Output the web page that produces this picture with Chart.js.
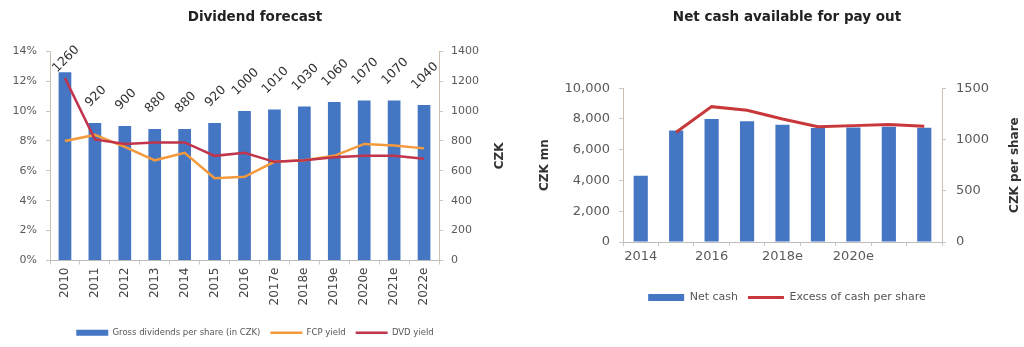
<!DOCTYPE html>
<html>
<head>
<meta charset="utf-8">
<script src="https://cdn.jsdelivr.net/npm/chart.js@4"></script>
<style>
  html, body { margin: 0; padding: 0; background: #fff; overflow: hidden; }
  body { width: 1024px; height: 347px; position: relative; }
  .box { position: absolute; top: 0; height: 347px; }
  #divBox { left: 0; width: 510px; }
  #cashBox { left: 534px; width: 506px; }
</style>
</head>
<body>
<div class="box" id="divBox"><canvas id="dividendChart"></canvas></div>
<div class="box" id="cashBox"><canvas id="cashChart"></canvas></div>
<script>
// Dividend forecast
const divYears = ['2010', '2011', '2012', '2013', '2014', '2015', '2016', '2017e', '2018e', '2019e', '2020e', '2021e', '2022e'];
const grossDps = [1260, 920, 900, 880, 880, 920, 1000, 1010, 1030, 1060, 1070, 1070, 1040];
const fcpYield = [8.0, 8.4, 7.6, 6.7, 7.2, 5.5, 5.6, 6.6, 6.7, 7.0, 7.8, 7.7, 7.5];
const dvdYield = [12.2, 8.1, 7.8, 7.9, 7.9, 7.0, 7.2, 6.6, 6.7, 6.9, 7.0, 7.0, 6.8];
const pctTicks = [0, 2, 4, 6, 8, 10, 12, 14];

// Net cash available for pay out
const cashYears = ['2014', '2015', '2016', '2017e', '2018e', '2019e', '2020e', '2021e', '2022e'];
const netCash = [4300, 7250, 8000, 7850, 7630, 7420, 7450, 7500, 7430];
const excessPerShare = [null, 1070, 1320, 1285, 1200, 1125, 1135, 1145, 1130];

const BLUE = '#4576c4';
const ORANGE = '#f59a3c';
const CRIMSON = '#c0344c';
const RED = '#c8383a';
const AXIS = '#cbbfb0';
const TICK = '#5a5a5a';
const FONT = "'DejaVu Sans', Verdana, sans-serif";

// rotated value labels above the bars
const barValueLabels = {
  id: 'barValueLabels',
  afterDatasetsDraw(chart) {
    const ctx = chart.ctx;
    const meta = chart.getDatasetMeta(0);
    const values = chart.data.datasets[0].data;
    ctx.save();
    ctx.font = '12.5px ' + FONT;
    ctx.fillStyle = '#333';
    ctx.textAlign = 'center';
    ctx.textBaseline = 'middle';
    meta.data.forEach((bar, i) => {
      const txt = String(values[i]);
      const w = ctx.measureText(txt).width;
      const half = (w + 11) * Math.SQRT1_2 / 2;
      let cy = bar.y - 14 - half;
      if (cy - half < 44) cy = 44 + half;
      ctx.save();
      ctx.translate(bar.x + 1, cy);
      ctx.rotate(-Math.PI / 4);
      ctx.fillText(txt, 0, 0);
      ctx.restore();
    });
    ctx.restore();
  }
};

// right axis title, reading bottom to top
const rightAxisTitle = {
  id: 'rightAxisTitle',
  afterDraw(chart, args, opts) {
    const ctx = chart.ctx;
    const area = chart.chartArea;
    ctx.save();
    ctx.font = 'bold 12px ' + FONT;
    ctx.fillStyle = '#333';
    ctx.textAlign = 'center';
    ctx.textBaseline = 'middle';
    ctx.translate(area.right + opts.offset, (area.top + area.bottom) / 2);
    ctx.rotate(-Math.PI / 2);
    ctx.fillText(opts.text, 0, 0);
    ctx.restore();
  }
};

const fixWidth = (w) => (scale) => { scale.width = w; };
const fixHeight = (h) => (scale) => { scale.height = h; };

new Chart(document.getElementById('dividendChart'), {
  type: 'bar',
  data: {
    labels: divYears,
    datasets: [{
      label: 'Gross dividends per share (in CZK)',
      data: grossDps,
      backgroundColor: BLUE,
      yAxisID: 'y1',
      barPercentage: 0.85,
      categoryPercentage: 0.5,
      pointStyle: 'rect',
      order: 2
    }, {
      type: 'line',
      label: 'FCP yield',
      data: fcpYield,
      borderColor: ORANGE,
      backgroundColor: ORANGE,
      borderWidth: 2.5,
      pointRadius: 0,
      pointStyle: 'line',
      tension: 0,
      yAxisID: 'y',
      order: 1
    }, {
      type: 'line',
      label: 'DVD yield',
      data: dvdYield,
      borderColor: CRIMSON,
      backgroundColor: CRIMSON,
      borderWidth: 2.5,
      pointRadius: 0,
      pointStyle: 'line',
      tension: 0,
      yAxisID: 'y',
      order: 0
    }]
  },
  options: {
    responsive: true,
    maintainAspectRatio: false,
    animation: false,
    layout: { padding: 0 },
    plugins: {
      title: {
        display: true,
        text: 'Dividend forecast',
        color: '#222',
        font: { family: FONT, size: 13.5, weight: 'bold' },
        padding: { top: 9, bottom: 26 }
      },
      legend: {
        position: 'bottom',
        labels: {
          usePointStyle: true,
          pointStyleWidth: 32,
          boxHeight: 6,
          padding: 10,
          color: '#555',
          font: { family: FONT, size: 8.5 },
          sort: (a, b) => a.datasetIndex - b.datasetIndex
        }
      },
      tooltip: { enabled: false },
      rightAxisTitle: { text: 'CZK', offset: 61 }
    },
    scales: {
      x: {
        afterFit: fixHeight(58),
        grid: { display: true, drawOnChartArea: false, tickLength: 4, color: '#c8c8c8' },
        border: { color: '#bdbdbd' },
        ticks: {
          minRotation: 90,
          maxRotation: 90,
          autoSkip: false,
          color: '#444',
          font: { family: FONT, size: 12 }
        }
      },
      y: {
        position: 'left',
        min: 0,
        max: 14,
        afterFit: fixWidth(50),
        afterBuildTicks: (scale) => { scale.ticks = pctTicks.map(v => ({ value: v })); },
        grid: { display: true, drawOnChartArea: false, tickLength: 4, color: '#c8c8c8' },
        border: { color: AXIS },
        ticks: {
          padding: 9,
          color: TICK,
          font: { family: FONT, size: 11 },
          callback: (v) => v + '%'
        }
      },
      y1: {
        position: 'right',
        min: 0,
        max: 1400,
        afterFit: fixWidth(71),
        grid: { display: true, drawOnChartArea: false, tickLength: 4, color: '#c8c8c8' },
        border: { color: AXIS },
        ticks: { padding: 8, stepSize: 200, color: TICK, font: { family: FONT, size: 11 }, callback: (v) => String(v) }
      }
    }
  },
  plugins: [barValueLabels, rightAxisTitle]
});

new Chart(document.getElementById('cashChart'), {
  type: 'bar',
  data: {
    labels: cashYears,
    datasets: [{
      label: 'Net cash',
      data: netCash,
      backgroundColor: BLUE,
      yAxisID: 'y',
      barPercentage: 0.8,
      categoryPercentage: 0.5,
      pointStyle: 'rect',
      order: 1
    }, {
      type: 'line',
      label: 'Excess of cash per share',
      data: excessPerShare,
      borderColor: RED,
      backgroundColor: RED,
      borderWidth: 3,
      pointRadius: 0,
      pointStyle: 'line',
      tension: 0,
      yAxisID: 'y1',
      order: 0
    }]
  },
  options: {
    responsive: true,
    maintainAspectRatio: false,
    animation: false,
    layout: { padding: { bottom: 34 } },
    plugins: {
      title: {
        display: true,
        text: 'Net cash available for pay out',
        color: '#222',
        font: { family: FONT, size: 13.5, weight: 'bold' },
        padding: { top: 9, bottom: 63 }
      },
      legend: {
        position: 'bottom',
        labels: {
          usePointStyle: true,
          pointStyleWidth: 36,
          boxHeight: 7,
          padding: 10,
          color: '#555',
          font: { family: FONT, size: 11 },
          sort: (a, b) => a.datasetIndex - b.datasetIndex
        }
      },
      tooltip: { enabled: false },
      rightAxisTitle: { text: 'CZK per share', offset: 73 }
    },
    scales: {
      x: {
        afterFit: fixHeight(40),
        grid: { display: true, drawOnChartArea: false, tickLength: 4, color: '#c8c8c8' },
        border: { color: '#bdbdbd' },
        ticks: {
          maxRotation: 0,
          autoSkip: false,
          color: TICK,
          font: { family: FONT, size: 13 },
          callback: function (v, i) { return i % 2 === 0 && i < 8 ? this.getLabelForValue(v) : ''; }
        }
      },
      y: {
        position: 'left',
        min: 0,
        max: 10000,
        afterFit: fixWidth(89),
        grid: { display: true, drawOnChartArea: false, tickLength: 4, color: '#c8c8c8' },
        border: { color: AXIS },
        ticks: {
          padding: 9,
          stepSize: 2000,
          color: TICK,
          font: { family: FONT, size: 13 },
          callback: (v) => v.toLocaleString('en-US')
        },
        title: {
          display: true,
          text: 'CZK mn',
          color: '#333',
          font: { family: FONT, size: 12, weight: 'bold' }
        }
      },
      y1: {
        position: 'right',
        min: 0,
        max: 1500,
        afterFit: fixWidth(98),
        grid: { display: true, drawOnChartArea: false, tickLength: 4, color: '#c8c8c8' },
        border: { color: AXIS },
        ticks: { padding: 10, stepSize: 500, color: TICK, font: { family: FONT, size: 13 }, callback: (v) => String(v) }
      }
    }
  },
  plugins: [rightAxisTitle]
});
</script>
</body>
</html>
